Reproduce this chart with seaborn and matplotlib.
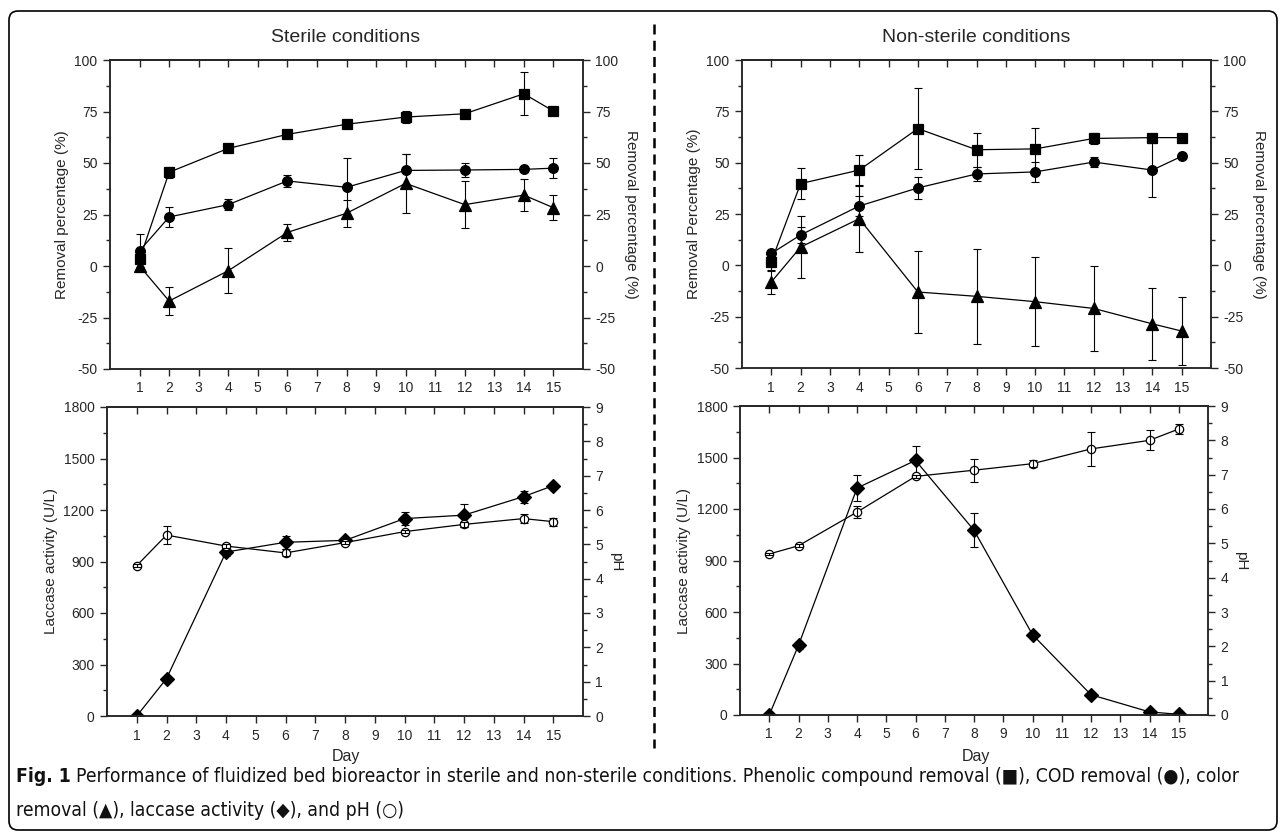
import numpy as np
import pandas as pd
import matplotlib
matplotlib.use("Agg")
import matplotlib.pyplot as plt
import seaborn as sns
from matplotlib.patches import FancyBboxPatch
from matplotlib.lines import Line2D
from matplotlib.transforms import IdentityTransform
from matplotlib.ticker import MultipleLocator

# Data
days = [1, 2, 4, 6, 8, 10, 12, 14, 15]

# Sterile conditions - removal (%)
st_phenol = [3.2, 45.5, 57.1, 63.9, 68.8, 72.3, 73.9, 83.6, 75.2]
st_phenol_err = [4.0, 2.7, 2.0, 1.0, 1.0, 3.0, 1.0, 10.5, 2.0]
st_cod = [7.4, 23.8, 29.8, 41.3, 38.2, 46.4, 46.6, 46.9, 47.5]
st_cod_err = [8.0, 4.8, 2.5, 3.0, 14.4, 8.0, 3.3, 1.0, 5.0]
st_color = [0.0, -17.0, -2.3, 16.3, 25.6, 40.1, 29.8, 34.4, 28.3]
st_color_err = [2.0, 7.0, 11.0, 4.2, 6.5, 14.5, 11.5, 7.7, 6.0]

# Non-sterile conditions - removal (%)
ns_phenol = [1.8, 39.8, 46.4, 66.6, 56.3, 56.7, 61.8, 62.2, 62.2]
ns_phenol_err = [4.5, 7.6, 7.5, 19.6, 8.2, 10.0, 2.8, 1.0, 0.0]
ns_cod = [5.8, 14.8, 28.9, 37.7, 44.5, 45.5, 50.3, 46.4, 53.1]
ns_cod_err = [1.5, 4.0, 5.0, 5.5, 3.5, 4.7, 2.5, 13.0, 0.0]
ns_color = [-8.1, 8.9, 22.7, -13.0, -15.1, -17.7, -21.0, -28.5, -32.0]
ns_color_err = [6.0, 15.0, 16.0, 20.0, 23.0, 21.6, 20.6, 17.5, 16.5]

# Laccase activity (U/L)
st_laccase = [0, 218, 955, 1012, 1023, 1150, 1170, 1278, 1342]
st_laccase_err = [0, 10, 25, 37, 15, 37, 67, 35, 15]
ns_laccase = [0, 406, 1322, 1483, 1076, 468, 118, 18, 4]
ns_laccase_err = [0, 20, 75, 85, 100, 10, 8, 5, 3]

# pH
st_ph = [4.38, 5.27, 4.95, 4.75, 5.05, 5.37, 5.58, 5.75, 5.66]
st_ph_err = [0.05, 0.27, 0.05, 0.1, 0.05, 0.05, 0.08, 0.12, 0.12]
ns_ph = [4.69, 4.93, 5.91, 6.95, 7.13, 7.32, 7.75, 8.0, 8.33]
ns_ph_err = [0.03, 0.05, 0.17, 0.05, 0.34, 0.1, 0.5, 0.29, 0.15]

sns.set_style("ticks")
plt.rcParams['font.family'] = ['Liberation Sans', 'DejaVu Sans']
plt.rcParams['axes.linewidth'] = 1.1
plt.rcParams['axes.unicode_minus'] = False

W, H = 1281, 835
fig = plt.figure(figsize=(W / 100, H / 100), dpi=100)


def box(l, r, t, b):
    return [l / W, 1 - b / H, (r - l) / W, (b - t) / H]


def series(ax, y, err, marker, ms, mfc='black'):
    df = pd.DataFrame({'day': days, 'val': y})
    sns.lineplot(data=df, x='day', y='val', ax=ax, color='black', lw=0.9,
                 marker=marker, markersize=ms, markerfacecolor=mfc,
                 markeredgecolor='black', markeredgewidth=0.9)
    ax.errorbar(days, y, yerr=err, fmt='none', ecolor='black',
                elinewidth=0.8, capsize=3, capthick=0.8)


def style_axes(ax, ax2, ylim, ymaj, ymin, y2lim, y2maj, y2min):
    ax.set_xlim(0, 16)
    ax.set_xticks(range(1, 16))
    ax.set_ylim(*ylim)
    ax.yaxis.set_major_locator(MultipleLocator(ymaj))
    ax.yaxis.set_minor_locator(MultipleLocator(ymin))
    ax.tick_params(axis='both', which='major', direction='out', length=5,
                   width=1, labelsize=10, pad=4)
    ax.tick_params(axis='y', which='minor', direction='out', length=3, width=1)
    ax2.set_ylim(*y2lim)
    ax2.yaxis.set_major_locator(MultipleLocator(y2maj))
    ax2.yaxis.set_minor_locator(MultipleLocator(y2min))
    ax2.tick_params(axis='y', which='major', direction='out', length=5,
                    width=1, labelsize=10, pad=4)
    ax2.tick_params(axis='y', which='minor', direction='out', length=3, width=1)
    top = ax.secondary_xaxis('top')
    top.set_xticks(range(1, 16))
    top.tick_params(direction='in', length=5, width=1, labeltop=False)
    ax.set_xlabel('')


# Top panels: removal percentage
panels_top = [
    (box(110, 583, 60, 369), st_phenol, st_phenol_err, st_cod, st_cod_err,
     st_color, st_color_err, 'Removal percentage (%)'),
    (box(742, 1211, 60, 368), ns_phenol, ns_phenol_err, ns_cod, ns_cod_err,
     ns_color, ns_color_err, 'Removal Percentage (%)'),
]
for rect, ph, ph_e, cod, cod_e, col, col_e, ylab in panels_top:
    ax = fig.add_axes(rect)
    ax2 = ax.twinx()
    series(ax, ph, ph_e, 's', 6.5)
    series(ax, cod, cod_e, 'o', 7)
    series(ax, col, col_e, '^', 8)
    style_axes(ax, ax2, (-50, 100), 25, 12.5, (-50, 100), 25, 12.5)
    ax.set_ylabel(ylab, fontsize=11)
    ax2.set_ylabel('Removal percentage (%)', fontsize=11, rotation=270,
                   labelpad=14)

# Bottom panels: laccase activity and pH
panels_bot = [
    (box(107, 583, 407, 716), st_laccase, st_laccase_err, st_ph, st_ph_err),
    (box(740, 1208, 406, 715), ns_laccase, ns_laccase_err, ns_ph, ns_ph_err),
]
for rect, lac, lac_e, ph, ph_e in panels_bot:
    ax = fig.add_axes(rect)
    ax2 = ax.twinx()
    series(ax, lac, lac_e, 'D', 7)
    series(ax2, ph, ph_e, 'o', 6, mfc='white')
    style_axes(ax, ax2, (0, 1800), 300, 150, (0, 9), 1, 0.5)
    ax2.set_xlabel('')
    ax.set_ylabel('Laccase activity (U/L)', fontsize=11)
    ax2.set_ylabel('pH', fontsize=11, rotation=270, labelpad=14)

# Titles and x labels
fig.text(346 / W, 1 - 37 / H, 'Sterile conditions', fontsize=14,
         ha='center', va='center')
fig.text(976 / W, 1 - 37 / H, 'Non-sterile conditions', fontsize=14,
         ha='center', va='center')
fig.text(346 / W, 1 - 757 / H, 'Day', fontsize=11.5, ha='center', va='center')
fig.text(976 / W, 1 - 757 / H, 'Day', fontsize=11.5, ha='center', va='center')

# Dashed separator
fig.add_artist(Line2D([654 / W, 654 / W], [1 - 24 / H, 1 - 748 / H],
                      transform=fig.transFigure, color='black', lw=1.8,
                      linestyle=(0, (4, 2.5))))

# Outer rounded frame
fig.add_artist(FancyBboxPatch((9, 5), 1268, 819,
                              boxstyle='round,pad=0,rounding_size=9',
                              transform=IdentityTransform(), fill=False,
                              edgecolor='black', lw=1.2))

# Caption
cap_font = ['DejaVu Sans']
cap_size = 13.9
renderer = fig.canvas.get_renderer()
t = fig.text(16 / W, 1 - 777 / H, 'Fig. 1', fontsize=cap_size, fontweight='bold',
             color='#111111', family=cap_font, fontstretch='condensed',
             va='center')
bb = t.get_window_extent(renderer)
fig.text((bb.x1 + 5) / W, 1 - 777 / H,
         'Performance of fluidized bed bioreactor in sterile and non-sterile '
         'conditions. Phenolic compound removal (\u25a0), COD removal (\u25cf), color',
         fontsize=cap_size, family=cap_font, fontstretch='condensed', va='center',
         color='#111111')
fig.text(16 / W, 1 - 810 / H,
         'removal (\u25b2), laccase activity (\u25c6), and pH (\u25cb)',
         fontsize=cap_size, family=cap_font, fontstretch='condensed', va='center',
         color='#111111')

fig.savefig('out.png', dpi=100)
